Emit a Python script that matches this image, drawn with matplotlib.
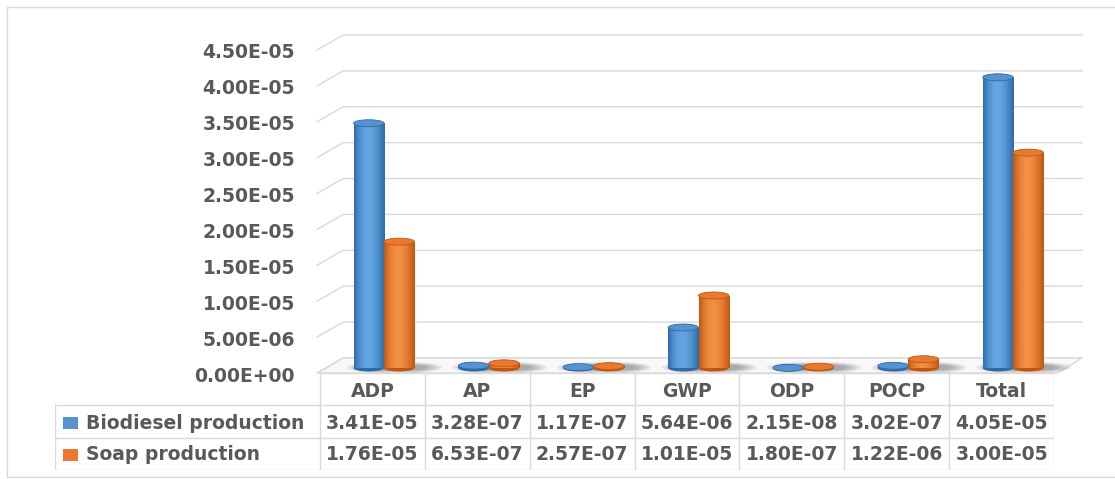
import numpy as np
import matplotlib.pyplot as plt
import matplotlib.transforms as mtransforms
from matplotlib.patches import Rectangle, Ellipse, Polygon

# impact categories and the two production routes
categories = ['ADP', 'AP', 'EP', 'GWP', 'ODP', 'POCP', 'Total']
series_names = ['Biodiesel production', 'Soap production']
biodiesel = [3.41e-05, 3.28e-07, 1.17e-07, 5.64e-06, 2.15e-08, 3.02e-07, 4.05e-05]
soap = [1.76e-05, 6.53e-07, 2.57e-07, 1.01e-05, 1.80e-07, 1.22e-06, 3.00e-05]
yticks = [0, 5e-06, 1e-05, 1.5e-05, 2e-05, 2.5e-05, 3e-05, 3.5e-05, 4e-05, 4.5e-05]

# (dark edge, light highlight, top cap)
blue = ('#2e69a8', '#6aaee9', '#5793d0')
orange = ('#c2560f', '#f8974a', '#ea782e')

TXT = '#595959'
GRID = '#d9d9d9'
FS = 13.5

W, H = 1115, 479
fig = plt.figure(figsize=(W / 100, H / 100), dpi=100)

# frame round the whole chart
fig.add_artist(Rectangle((7 / W, 2 / H), 1.2, 470 / H, transform=fig.transFigure,
                         fill=False, edgecolor=GRID, lw=1))

ax = fig.add_axes([320 / W, (H - 368) / H, 734 / W, 323 / H])
ymax = 4.5e-05
py = ymax / 323      # data units per pixel, vertical
px = 7 / 734         # category units per pixel, horizontal

# back wall gridlines with the slanted side wall
for v in yticks:
    ax.plot([-0.5 - 3 * px, -0.5 + 23 * px, 6.5 + 28 * px],
            [v - 5 * py, v + 10 * py, v + 10 * py],
            color=GRID, lw=1, clip_on=False, zorder=0)

# floor
ax.add_patch(Polygon([(-0.5 - 2 * px, -5 * py), (-0.5 + 23 * px, 10 * py),
                      (6.5 + 28 * px, 10 * py), (6.5 + 4 * px, -5 * py)],
                     closed=True, facecolor='#f8f8f8', edgecolor=GRID, lw=1,
                     clip_on=False, zorder=0.5))

t = np.linspace(0, 1, 64)
shade = np.clip(np.sin(np.pi * t) ** 0.9 * (1.05 - 0.35 * t), 0, 1)


def gradient(dark, light):
    d = np.array(plt.matplotlib.colors.to_rgb(dark))
    l = np.array(plt.matplotlib.colors.to_rgb(light))
    g = d[None, :] + (l - d)[None, :] * shade[:, None]
    return g[None, :, :]


def cylinder(xc, v, w, spec):
    dark, light, top = spec
    eh = 7 * py
    # soft shadow on the floor
    for k in range(5):
        ax.add_patch(Ellipse((xc + 0.1, 0.5 * py), w * (2.1 - 0.25 * k), eh * (1.5 - 0.18 * k),
                             facecolor='#303030', alpha=0.09, lw=0, zorder=1, clip_on=False))
    ax.add_patch(Ellipse((xc, 0), w, eh, facecolor=dark, lw=0, zorder=2, clip_on=False))
    bar = ax.bar(xc, v, w, color=dark, lw=0, zorder=2)[0]
    im = ax.imshow(gradient(dark, light), extent=[xc - w / 2, xc + w / 2, 0, v],
                   aspect='auto', interpolation='bicubic', zorder=2.1)
    im.set_clip_path(bar)
    ax.add_patch(Ellipse((xc, v), w, eh, facecolor=top, edgecolor=dark, lw=0.6,
                         zorder=2.2, clip_on=False))


x = np.arange(len(categories))
bw = 0.29
for i in x:
    cylinder(i - 0.035, biodiesel[i], bw, blue)
    cylinder(i + 0.255, soap[i], bw, orange)

ax.set_xlim(-0.5, 6.5)
ax.set_ylim(0, ymax)
ax.set_xticks([])
ax.set_yticks(yticks, labels=[f'{v:.2E}' for v in yticks])
ax.tick_params(axis='y', length=0, pad=18, labelsize=FS, labelcolor=TXT)
shift = mtransforms.ScaledTranslation(0, -6 / 100, fig.dpi_scale_trans)
for lab in ax.get_yticklabels():
    lab.set_fontweight('bold')
    lab.set_transform(lab.get_transform() + shift)
for s in ax.spines.values():
    s.set_visible(False)
ax.patch.set_alpha(0)

# data table under the chart
tab = fig.add_axes([55 / W, (H - 470) / H, 999 / W, 97 / H])
x_left = -0.5 - 265 / (734 / 7)
tab.set_xlim(x_left, 6.5)
tab.set_ylim(0, 3)
tab.axis('off')

tab.plot([-0.5, 6.5], [3, 3], color=GRID, lw=1)
for yy in (2, 1, 0):
    tab.plot([x_left, 6.5], [yy, yy], color=GRID, lw=1)
for xx in np.arange(-0.5, 7, 1):
    tab.plot([xx, xx], [0, 3], color=GRID, lw=1)
tab.plot([x_left, x_left], [0, 2], color=GRID, lw=1)

for i, c in enumerate(categories):
    tab.text(i, 2.42, c, ha='center', va='center', fontsize=FS, fontweight='bold', color=TXT)
    tab.text(i, 1.44, f'{biodiesel[i]:.2E}', ha='center', va='center',
             fontsize=FS, fontweight='bold', color=TXT)
    tab.text(i, 0.47, f'{soap[i]:.2E}', ha='center', va='center',
             fontsize=FS, fontweight='bold', color=TXT)

for row, (name, spec) in enumerate(zip(series_names, (blue, orange))):
    yc = 1.45 - row * 0.98
    tab.add_patch(Rectangle((x_left + 8 / 104.86, yc - 0.19), 15 / 104.86, 0.38,
                            facecolor=spec[2], edgecolor='none'))
    tab.text(x_left + 31 / 104.86, yc, name, ha='left', va='center',
             fontsize=FS, fontweight='bold', color=TXT)

fig.savefig('out.png', dpi=100)
